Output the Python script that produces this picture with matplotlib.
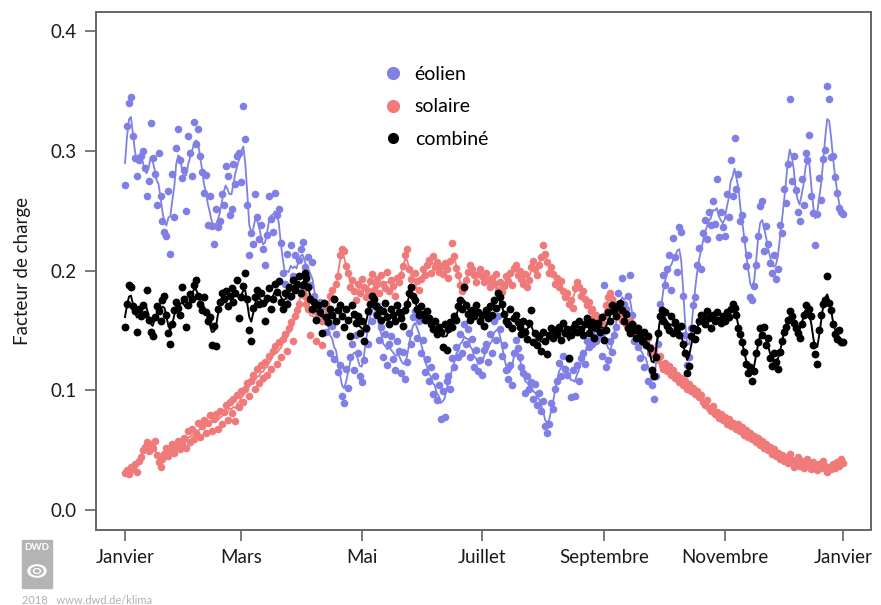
import numpy as np
import matplotlib
matplotlib.use('Agg')
import matplotlib.pyplot as plt
from matplotlib.lines import Line2D
from matplotlib.patches import Rectangle, Circle

plt.rcParams['font.family'] = ['Lato', 'DejaVu Sans']

# daily capacity factors, 1 Jan .. 31 Dec
eolien = [
    .271, .321, .340, .345, .312, .294, .279, .292, .296, .300,
    .286, .262, .275, .323, .294, .281, .255, .298, .262, .241,
    .232, .229, .266, .214, .281, .245, .302, .318, .292, .277,
    .284, .250, .312, .298, .279, .324, .306, .318, .296, .282,
    .265, .280, .238, .262, .237, .222, .251, .236, .241, .264,
    .255, .287, .279, .246, .251, .289, .272, .296, .298, .274,
    .337, .310, .255, .213, .231, .222, .264, .245, .226, .238,
    .218, .205, .230, .262, .243, .232, .265, .246, .251, .223,
    .198, .189, .214, .178, .221, .195, .213, .186, .209, .218,
    .224, .203, .196, .211, .188, .207, .179, .172, .161, .174,
    .158, .170, .149, .167, .131, .154, .126, .147, .115, .121,
    .095, .089, .118, .102, .128, .139, .117, .146, .131, .112,
    .107, .125, .151, .139, .172, .158, .181, .164, .171, .142,
    .153, .128, .147, .121, .139, .145, .126, .117, .141, .133,
    .114, .132, .109, .124, .148, .139, .161, .166, .144, .158,
    .131, .142, .115, .126, .108, .119, .097, .112, .092, .104,
    .076, .099, .078, .108, .112, .101, .127, .119, .136, .128,
    .147, .131, .155, .139, .151, .128, .143, .119, .134, .116,
    .125, .113, .134, .139, .124, .147, .131, .158, .142, .162,
    .151, .129, .138, .117, .109, .121, .104, .131, .142, .135,
    .128, .119, .114, .098, .112, .101, .107, .093, .105, .088,
    .098, .083, .091, .070, .064, .072, .089, .084, .101, .108,
    .123, .112, .129, .118, .113, .126, .094, .117, .095, .121,
    .108, .127, .131, .122, .141, .136, .148, .139, .153, .141,
    .152, .146, .129, .188, .119, .125, .141, .132, .146, .153,
    .181, .162, .194, .172, .168, .179, .196, .163, .141, .149,
    .136, .127, .141, .119, .139, .108, .131, .104, .093, .112,
    .139, .172, .162, .196, .188, .201, .213, .184, .227, .211,
    .199, .236, .232, .179, .146, .121, .128, .152, .171, .178,
    .205, .219, .201, .231, .242, .226, .249, .238, .258, .239,
    .276, .228, .249, .236, .229, .264, .245, .292, .262, .311,
    .268, .281, .241, .246, .226, .204, .213, .178, .175, .187,
    .205, .229, .254, .258, .216, .237, .222, .206, .198, .213,
    .193, .201, .238, .231, .268, .256, .289, .343, .275, .296,
    .267, .249, .241, .276, .255, .298, .292, .313, .262, .248,
    .221, .247, .277, .259, .293, .301, .354, .343, .295, .296,
    .278, .265, .252, .249, .247,
]

solaire = [
    .031, .033, .030, .036, .034, .038, .032, .041, .044, .050,
    .053, .057, .049, .055, .052, .058, .046, .040, .036, .043,
    .047, .052, .045, .050, .055, .048, .053, .058, .051, .056,
    .060, .052, .066, .057, .068, .059, .064, .073, .061, .070,
    .075, .064, .073, .079, .066, .076, .080, .068, .083, .072,
    .082, .088, .075, .090, .081, .093, .074, .096, .086, .099,
    .090, .101, .106, .095, .108, .113, .101, .118, .106, .121,
    .110, .124, .113, .129, .118, .133, .137, .122, .140, .128,
    .143, .147, .133, .152, .157, .141, .162, .167, .172, .180,
    .183, .179, .172, .168, .146, .175, .166, .141, .170, .163,
    .138, .158, .172, .167, .179, .184, .176, .189, .195, .213,
    .218, .216, .204, .198, .186, .192, .183, .175, .189, .181,
    .193, .186, .178, .183, .191, .197, .184, .188, .193, .181,
    .196, .189, .185, .199, .183, .192, .187, .179, .194, .190,
    .196, .204, .213, .218, .201, .193, .186, .198, .191, .184,
    .193, .201, .196, .205, .209, .198, .212, .203, .207, .199,
    .204, .197, .206, .201, .194, .208, .223, .212, .202, .196,
    .188, .183, .186, .192, .199, .205, .201, .196, .190, .197,
    .201, .195, .190, .198, .192, .186, .194, .189, .197, .184,
    .190, .182, .187, .195, .191, .198, .188, .202, .205, .196,
    .200, .193, .189, .197, .186, .192, .203, .208, .201, .196,
    .205, .211, .221, .214, .207, .198, .203, .197, .189, .194,
    .186, .191, .183, .178, .181, .172, .175, .169, .185, .190,
    .186, .179, .183, .176, .171, .174, .166, .168, .161, .163,
    .157, .160, .156, .162, .171, .178, .181, .176, .169, .172,
    .166, .161, .158, .163, .155, .152, .158, .149, .154, .147,
    .150, .145, .148, .143, .139, .144, .136, .131, .134, .128,
    .125, .129, .121, .118, .123, .116, .120, .113, .117, .110,
    .113, .107, .110, .104, .108, .101, .105, .099, .102, .097,
    .099, .094, .096, .090, .088, .092, .085, .083, .087, .080,
    .082, .077, .080, .075, .078, .072, .076, .070, .073, .071,
    .068, .072, .066, .069, .063, .067, .061, .064, .059, .062,
    .057, .060, .054, .058, .052, .055, .050, .053, .047, .051,
    .045, .048, .043, .046, .041, .044, .039, .047, .042, .036,
    .040, .044, .037, .041, .035, .039, .043, .038, .034, .040,
    .036, .033, .038, .035, .041, .037, .032, .036, .034, .038,
    .035, .040, .037, .043, .039,
]

combine = [
    .153, .172, .188, .186, .170, .166, .149, .168, .162, .171,
    .164, .184, .159, .149, .145, .161, .170, .166, .158, .175,
    .179, .163, .148, .139, .155, .167, .174, .169, .163, .186,
    .176, .153, .171, .180, .176, .188, .192, .179, .172, .167,
    .178, .165, .158, .161, .138, .154, .137, .168, .174, .181,
    .176, .183, .170, .179, .185, .174, .181, .192, .160, .178,
    .187, .198, .176, .150, .141, .169, .178, .184, .172, .181,
    .173, .158, .177, .185, .168, .176, .189, .182, .191, .174,
    .168, .181, .172, .186, .179, .192, .184, .189, .195, .181,
    .188, .198, .194, .186, .176, .168, .174, .159, .171, .165,
    .148, .173, .161, .157, .168, .163, .176, .158, .167, .171,
    .162, .153, .168, .159, .145, .171, .164, .156, .162, .148,
    .158, .141, .152, .166, .172, .179, .176, .170, .163, .168,
    .159, .166, .173, .161, .155, .168, .163, .158, .171, .165,
    .160, .154, .167, .172, .181, .186, .179, .175, .168, .163,
    .170, .164, .159, .166, .160, .155, .151, .158, .147, .153,
    .149, .136, .155, .134, .151, .157, .153, .162, .159, .170,
    .175, .168, .186, .171, .164, .159, .167, .162, .171, .165,
    .158, .163, .154, .167, .160, .170, .163, .175, .169, .181,
    .178, .172, .164, .158, .155, .168, .152, .160, .163, .157,
    .153, .147, .158, .149, .143, .156, .167, .140, .148, .138,
    .145, .133, .149, .141, .130, .146, .152, .144, .150, .147,
    .153, .142, .156, .148, .151, .127, .146, .152, .155, .149,
    .158, .151, .146, .155, .160, .148, .153, .157, .144, .152,
    .156, .149, .161, .142, .150, .165, .158, .171, .166, .162,
    .170, .173, .167, .158, .164, .152, .148, .155, .150, .144,
    .152, .146, .141, .149, .138, .145, .135, .117, .112, .128,
    .148, .162, .167, .158, .165, .154, .150, .162, .148, .157,
    .152, .146, .154, .139, .131, .114, .120, .145, .152, .143,
    .150, .158, .163, .161, .155, .166, .160, .152, .163, .158,
    .165, .159, .156, .162, .158, .165, .161, .168, .172, .169,
    .163, .152, .147, .140, .132, .122, .114, .119, .108, .116,
    .131, .140, .152, .146, .153, .138, .144, .127, .120, .131,
    .124, .118, .132, .141, .149, .153, .159, .166, .162, .156,
    .152, .148, .144, .155, .163, .171, .165, .168, .162, .138,
    .130, .122, .150, .163, .172, .175, .195, .173, .167, .155,
    .147, .143, .150, .140, .140,
]

mois = ['Janvier', 'Mars', 'Mai', 'Juillet', 'Septembre', 'Novembre', 'Janvier']
jour_mois = [1, 60, 121, 182, 244, 305, 365]

BLEU = '#7f7fe6'
ROUGE = '#f07a7a'


def lisser(v):
    # petite moyenne glissante ponderee
    w = np.array([1, 2, 3, 2, 1.])
    v = np.pad(np.asarray(v, dtype=float), 2, mode='edge')
    return np.convolve(v, w / w.sum(), mode='valid')


jours = np.arange(1, len(eolien) + 1)

fig = plt.figure(figsize=(8.81, 6.05), dpi=100)
ax = fig.add_axes([96 / 881, 1 - 530 / 605, 775 / 881, 518 / 605])

ax.scatter(jours, eolien, s=30, color=BLEU, linewidths=0, zorder=2)
ax.plot(jours, lisser(eolien), color=BLEU, lw=1.3, zorder=2)
ax.scatter(jours, solaire, s=30, color=ROUGE, linewidths=0, zorder=3)
ax.plot(jours, lisser(solaire), color=ROUGE, lw=1.3, zorder=3)
ax.scatter(jours, combine, s=32, color='black', linewidths=0, zorder=4)
ax.plot(jours, lisser(combine), color='black', lw=1.4, zorder=4)

ax.set_xlim(1 - 29 / 1.9725, 365 + 28 / 1.9725)
ax.set_ylim(-20 / 1197.5, 0.4 + 19 / 1197.5)
ax.set_xticks(jour_mois)
ax.set_xticklabels(mois)
ax.set_yticks([0.0, 0.1, 0.2, 0.3, 0.4])
ax.set_yticklabels(['0.0', '0.1', '0.2', '0.3', '0.4'])
ax.tick_params(direction='out', length=8, width=1.1, color='#555555',
               labelsize=13.5, labelcolor='#1a1a1a', pad=6)
for sp in ax.spines.values():
    sp.set_color('#666666')
    sp.set_linewidth(1.4)
ax.set_ylabel('Facteur de charge', fontsize=13.5, color='#1a1a1a', labelpad=14)

poignees = [
    Line2D([], [], marker='o', ls='', color=BLEU, markersize=8.5),
    Line2D([], [], marker='o', ls='', color=ROUGE, markersize=8.5),
    Line2D([], [], marker='o', ls='', color='black', markersize=7),
]
ax.legend(poignees, ['éolien', 'solaire', 'combiné'], loc='upper left',
          bbox_to_anchor=(0.371, 0.896), frameon=False, fontsize=14,
          handlelength=1.0, handletextpad=0.6, labelspacing=0.8,
          borderpad=0, borderaxespad=0)

# logo DWD et source
fig.patches.append(Rectangle((22 / 881, 1 - 588 / 605), 30 / 881, 48 / 605,
                             transform=fig.transFigure, color='#b4b4b4'))
fig.text(37 / 881, 1 - 548 / 605, 'DWD', ha='center', va='center',
         fontsize=7, color='white', fontweight='bold')
for r, c in [(9, 'white'), (6, '#b4b4b4'), (3.5, 'white'), (1.8, '#b4b4b4')]:
    fig.patches.append(Circle((37 / 881, 1 - 571 / 605), r / 881,
                              transform=fig.transFigure, color=c))
fig.text(22 / 881, 1 - 600 / 605, '2018   www.dwd.de/klima', ha='left',
         va='center', fontsize=8, color='#b0b0b0')

fig.savefig('out.png', dpi=100)
